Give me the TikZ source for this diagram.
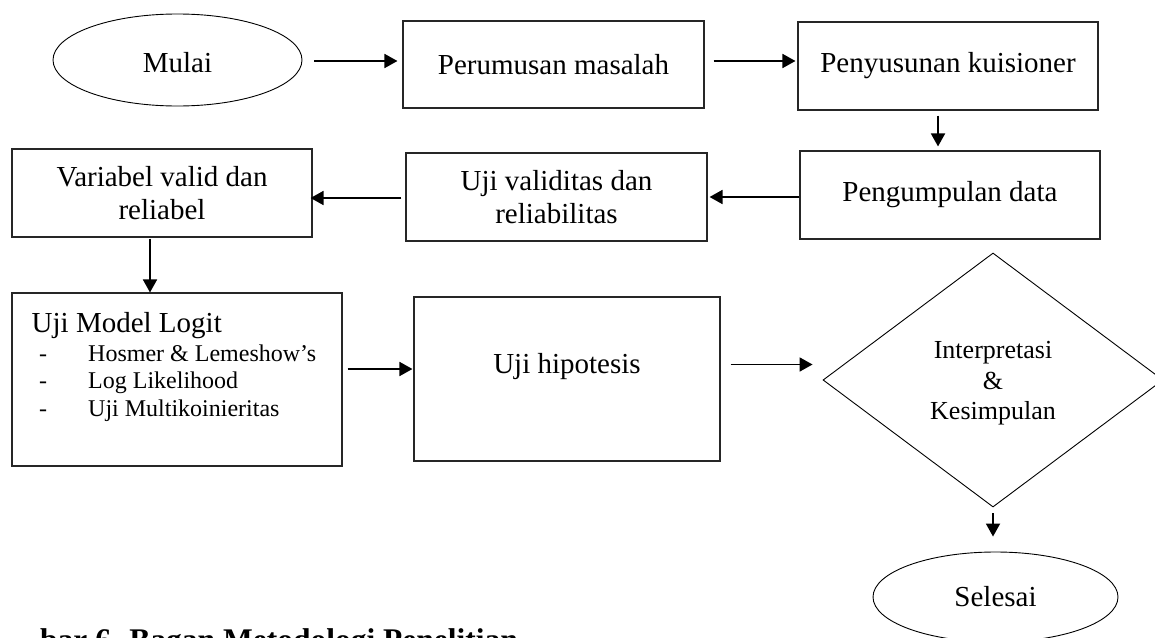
\documentclass[tikz,border=0pt]{standalone}
\usepackage{fontspec}
\setmainfont{Liberation Serif}
\usetikzlibrary{arrows.meta,shapes.geometric,calc}
\newcommand\mainsz{\fontsize{29}{33.4}\selectfont}
\newcommand\itemsz{\fontsize{24}{27.5}\selectfont}
\newcommand\diasz{\fontsize{26}{30.5}\selectfont}
\newcommand\capsz{\fontsize{31.5}{36}\selectfont\bfseries}
\begin{document}
\begin{tikzpicture}[x=1pt,y=-1pt,
  box/.style={draw=black!85, line width=1.1pt, inner sep=0pt, font=\mainsz, align=center},
  ell/.style={ellipse, draw=black, line width=0.9pt, inner sep=0pt, font=\mainsz},
  dia/.style={diamond, draw=black, line width=0.9pt, inner sep=0pt},
  txt/.style={inner sep=0pt},
  arr/.style={line width=1.8pt, -{Triangle[length=13pt,width=14pt]}}]
\useasboundingbox (0,0) rectangle (1155,637);

% nodes
\node[ell, minimum width=249pt, minimum height=92pt] (mulai) at (177.5,60) {\rule{0pt}{26pt}Mulai};
\node[box, minimum width=301pt, minimum height=87pt] (perum) at (553.5,64.5) {Perumusan masalah};
\node[box, minimum width=300pt, minimum height=88pt] (susun) at (948,66) {Penyusunan kuisioner};
\node[box, minimum width=300pt, minimum height=88pt] (kumpul) at (950,195) {Pengumpulan data};
\node[box, minimum width=301pt, minimum height=88pt] (valid) at (556.5,197) {Uji validitas dan\\reliabilitas};
\node[box, minimum width=300pt, minimum height=88pt] (var) at (162,193) {Variabel valid dan\\reliabel};

\node[box, minimum width=330pt, minimum height=173pt] (logit) at (177,379.5) {};
\node[txt, anchor=base west, font=\mainsz] (logitT) at (31.5,332) {Uji Model Logit};
\node[txt, anchor=base west, font=\itemsz] (d1) at (39,361) {-};
\node[txt, anchor=base west, font=\itemsz] (i1) at (88,361) {Hosmer \& Lemeshow’s};
\node[txt, anchor=base west, font=\itemsz] (d2) at (39,388.5) {-};
\node[txt, anchor=base west, font=\itemsz] (i2) at (88,388.5) {Log Likelihood};
\node[txt, anchor=base west, font=\itemsz] (d3) at (39,416) {-};
\node[txt, anchor=base west, font=\itemsz] (i3) at (88,416) {Uji Multikoinieritas};

\node[box, minimum width=306pt, minimum height=164pt] (hipo) at (567,379) {};
\node[txt, anchor=base, font=\mainsz] (hipoT) at (567,373) {Uji hipotesis};

\node[dia, minimum width=340pt, minimum height=254pt] (intp) at (993,380) {};
\node[txt, align=center, font=\diasz] (intpT) at (993,383.5) {Interpretasi\\\&\\Kesimpulan};

\node[ell, minimum width=245pt, minimum height=90pt] (sel) at (995.5,597) {Selesai};

\node[txt, anchor=base west, font=\capsz] (cap) at (40,650) {bar 6. Bagan Metodologi Penelitian};

% connectors
\draw[arr] ($(mulai.east)+(12,1)$) -- ($(perum.west)+(-5,-3.5)$);
\draw[arr] ($(perum.east)+(9,-3.5)$) -- ($(susun.west)+(-2,-5)$);
\draw[arr] ($(susun.south)+(-10,5)$) -- ($(kumpul.north)+(-12,-4)$);
\draw[arr] ($(kumpul.west)+(0,2)$) -- ($(valid.east)+(2,0)$);
\draw[arr] ($(valid.west)+(-4,1)$) -- ($(var.east)+(-2,5)$);
\draw[arr] ($(var.south)+(-12,1)$) -- ($(logit.north)+(-27,0)$);
\draw[arr] ($(logit.east)+(5,-10.5)$) -- ($(hipo.west)+(-1,-10)$);
\draw[arr] ($(hipo.east)+(10,-14.5)$) -- ($(intp.west)+(-10,-15.5)$);
\draw[arr] ($(intp.south)+(0,6)$) -- ($(sel.north)+(-2.5,-15)$);
\end{tikzpicture}
\end{document}
